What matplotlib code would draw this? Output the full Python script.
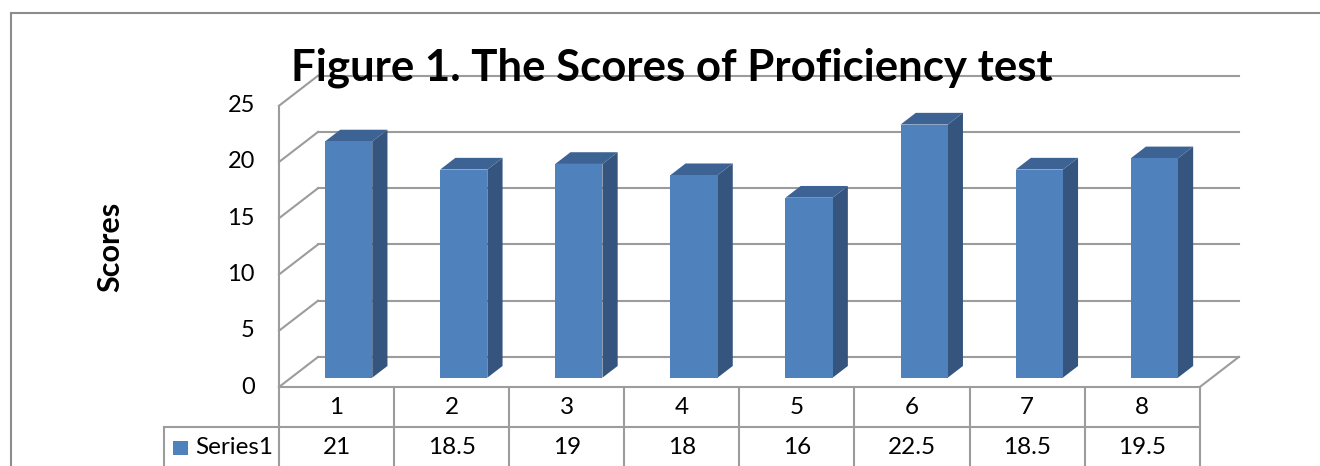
import matplotlib.pyplot as plt
import numpy as np
from matplotlib.patches import Polygon
from matplotlib.lines import Line2D

categories = ['1', '2', '3', '4', '5', '6', '7', '8']
scores = [21, 18.5, 19, 18, 16, 22.5, 18.5, 19.5]
value_labels = ['21', '18.5', '19', '18', '16', '22.5', '18.5', '19.5']
series_name = 'Series1'
y_ticks = [0, 5, 10, 15, 20, 25]

FRONT = '#4F81BD'
SIDE = '#35557F'
TOP = '#3D6394'
GRID = '#9C9C9C'

plt.rcParams['font.family'] = ['Lato', 'DejaVu Sans']

fig = plt.figure(figsize=(13.2, 4.66), dpi=100)
ax = fig.add_axes([0, 0, 1, 1])
ax.set_xlim(-279 / 115.1, (1320 - 279) / 115.1)
ax.set_ylim(-(466 - 387) / 11.25, 387 / 11.25)
ax.axis('off')

n = len(categories)
DX, DY = 0.339, 2.67   # depth projection of the floor
W = 0.41               # bar width
d0, dd = 0.31, 0.39    # bar depth start / length

# walls and floor
for v in y_ticks:
    ax.plot([DX, n + DX], [DY + v, DY + v], color=GRID, lw=1.5, zorder=1)
    ax.plot([0, DX], [v, DY + v], color=GRID, lw=1.5, zorder=1)
ax.plot([0, 0], [0, y_ticks[-1]], color=GRID, lw=1.5, zorder=1)
ax.plot([n, n + DX], [0, DY], color=GRID, lw=1.5, zorder=1)

# bars
x = np.arange(n) + 0.5
xl = x - W / 2 + d0 * DX
yb = d0 * DY
for i, v in enumerate(scores):
    x0, x1 = xl[i], xl[i] + W
    top = yb + v
    ox, oy = dd * DX, dd * DY
    ax.add_patch(Polygon([(x1, yb), (x1 + ox, yb + oy), (x1 + ox, top + oy), (x1, top)],
                         closed=True, fc=SIDE, ec='none', zorder=3))
    ax.add_patch(Polygon([(x0, top), (x0 + ox, top + oy), (x1 + ox, top + oy), (x1, top)],
                         closed=True, fc=TOP, ec='none', zorder=3))
ax.bar(xl, scores, width=W, bottom=yb, align='edge', color=FRONT, lw=0, zorder=4)

# y tick labels
for v in y_ticks:
    ax.text(-0.21, v, str(v), ha='right', va='center', fontsize=17, color='black')

ax.text(-1.47, 12.44, 'Scores', rotation=90, ha='center', va='center',
        fontsize=22, fontweight='bold')

ax.text(3.41, 27.2, 'Figure 1. The Scores of Proficiency test', ha='center',
        va='baseline', fontsize=31.5, fontweight='bold', zorder=5)

# data table
row = 40 / 11.25
ybot = ax.get_ylim()[0]
kx = -1.0
ax.plot([0, n], [0, 0], color=GRID, lw=1.5, zorder=2)
ax.plot([kx, n], [-row, -row], color=GRID, lw=1.5, zorder=2)
for j in range(n + 1):
    ax.plot([j, j], [0, ybot], color=GRID, lw=1.5, zorder=2)
ax.plot([kx, kx], [-row, ybot], color=GRID, lw=1.5, zorder=2)
for j in range(n):
    ax.text(j + 0.5, -row / 2, categories[j], ha='center', va='center', fontsize=17.5)
    ax.text(j + 0.5, -row * 1.52, value_labels[j], ha='center', va='center', fontsize=17.5)
ax.add_patch(plt.Rectangle((-0.92, -6.04), 0.13, 1.24, fc=FRONT, ec='none'))
ax.text(-0.73, -row * 1.52, series_name, ha='left', va='center', fontsize=17.5)

# chart area border
fig.add_artist(Line2D([11 / 1320, 11 / 1320], [0, 1 - 13 / 466], color='#8C8C8C', lw=1.5))
fig.add_artist(Line2D([11 / 1320, 1], [1 - 13 / 466, 1 - 13 / 466], color='#8C8C8C', lw=1.5))

fig.savefig('out.png', dpi=100)
